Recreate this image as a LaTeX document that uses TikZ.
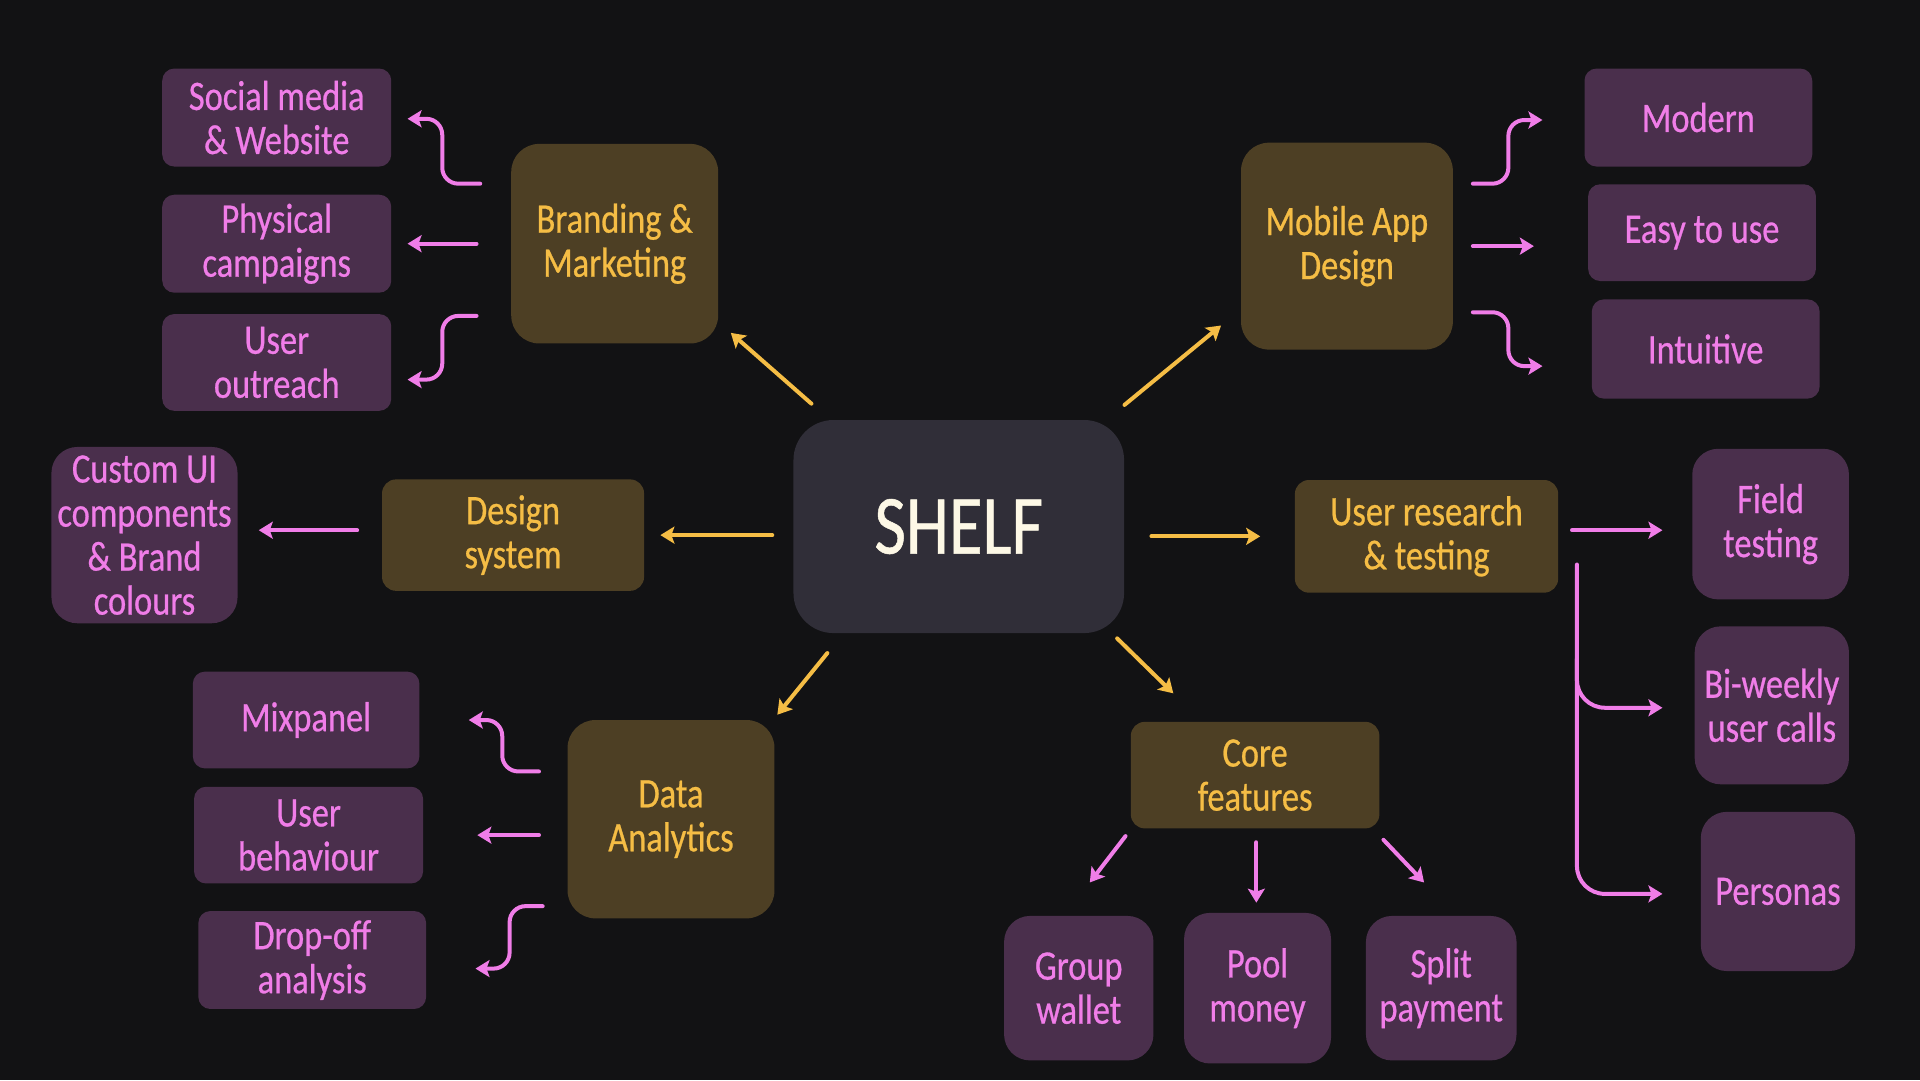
\documentclass[tikz,border=0pt]{standalone}
\usepackage{fontspec}
\setmainfont{Carlito}[FakeStretch=0.82, FakeBold=0.6]
\usetikzlibrary{arrows.meta,calc}
\definecolor{bgc}{RGB}{18,18,20}
\definecolor{shelfc}{RGB}{48,46,56}
\definecolor{brownc}{RGB}{77,63,36}
\definecolor{yellowc}{RGB}{245,189,69}
\definecolor{purplec}{RGB}{74,47,76}
\definecolor{pinkc}{RGB}{240,125,232}
\definecolor{creamc}{RGB}{253,248,230}
\def\sk{0.6123pt}
\tikzset{
  every node/.style={inner sep=0pt, align=center, font=\fontsize{21}{22}\selectfont},
  ybox/.style={fill=brownc, text=yellowc, rounded corners=7pt},
  ybig/.style={ybox, rounded corners=14pt},
  pbox/.style={fill=purplec, text=pinkc, rounded corners=6pt},
  pbig/.style={pbox, rounded corners=13pt},
  sz/.style 2 args={minimum width=#1*\sk, minimum height=#2*\sk},
  ya/.style={draw=yellowc, line width=2pt, line cap=round, -{Stealth[length=7pt,width=8.5pt,inset=1.5pt]}},
  pa/.style={draw=pinkc, line width=2pt, line cap=round, rounded corners=8pt, -{Stealth[length=7pt,width=8.5pt,inset=1.5pt]}},
}
\begin{document}
\begin{tikzpicture}[x=0.6123pt, y=-0.6123pt]
\useasboundingbox (0,0) rectangle (1568,882);
\fill[bgc] (0,0) rectangle (1568,882);

% center
\node[fill=shelfc, text=creamc, rounded corners=20pt, sz={270}{174}, font=\fontsize{42}{44}\selectfont] (shelf) at (783,430) {SHELF};

% main branches
\node[ybig, sz={169}{163}] (brand) at (502,199) {Branding \&\\Marketing};
\node[ybig, sz={173}{169}] (mobile) at (1100,201) {Mobile App\\Design};
\node[ybox, sz={214}{91}] (design) at (419,437) {Design\\system};
\node[ybox, sz={215}{92}] (research) at (1165,438) {User research\\\& testing};
\node[ybox, sz={203}{87}] (core) at (1025,633) {Core\\features};
\node[ybig, sz={169}{162}] (data) at (548,669) {Data\\Analytics};

% leaves
\node[pbox, sz={187}{80}] (social) at (226,96) {Social media\\\& Website};
\node[pbox, sz={187}{80}] (phys) at (226,199) {Physical\\campaigns};
\node[pbox, sz={187}{79}] (outreach) at (226,296) {User\\outreach};

\node[pbox, sz={186}{80}] (modern) at (1387,96) {Modern};
\node[pbox, sz={186}{79}] (easy) at (1390,190) {Easy to use};
\node[pbox, sz={186}{81}] (intuitive) at (1393,285) {Intuitive};

\node[pbig, sz={152}{144}] (custom) at (118,437) {Custom UI\\components\\\& Brand\\colours};

\node[pbig, sz={128}{123}] (field) at (1446,428) {Field\\testing};
\node[pbig, sz={126}{129}] (biweekly) at (1447,576) {Bi-weekly\\user calls};
\node[pbig, sz={126}{130}] (personas) at (1452,728) {Personas};

\node[pbig, sz={122}{118}] (wallet) at (881,807) {Group\\wallet};
\node[pbig, sz={120}{123}] (pool) at (1027,807) {Pool\\money};
\node[pbig, sz={123}{118}] (split) at (1177,807) {Split\\payment};

\node[pbox, sz={185}{79}] (mixpanel) at (250,588) {Mixpanel};
\node[pbox, sz={187}{79}] (behav) at (252,682) {User\\behaviour};
\node[pbox, sz={186}{80}] (dropoff) at (255,784) {Drop-off\\analysis};

% yellow connectors from center
\draw[ya] ($(shelf.north west)+(15,-13)$) -- ($(brand.south east)+(10,-9)$);
\draw[ya] ($(shelf.north east)+(0,-12)$) -- ($(mobile.south west)+(-16,-20)$);
\draw[ya] ($(shelf.west)+(-17,7)$) -- ($(design.east)+(13,0)$);
\draw[ya] ($(shelf.east)+(22,8)$) -- ($(research.west)+(-28,0)$);
\draw[ya] ($(shelf.south east)+(-6,4)$) -- ($(core.north west)+(35,-23)$);
\draw[ya] ($(shelf.south west)+(28,16)$) -- ($(data.north east)+(2,-4)$);

% branding
\draw[pa] ($(brand.west)+(-25,-49)$) -- ++(-31,0) |- ($(social.east)+(13,1)$);
\draw[pa] ($(brand.west)+(-28,0)$) -- ($(phys.east)+(13,0)$);
\draw[pa] ($(brand.west)+(-28,59)$) -- ++(-28,0) |- ($(outreach.east)+(13,14)$);

% mobile
\draw[pa] ($(mobile.east)+(16,-51)$) -- ++(29,0) |- ($(modern.west)+(-34,2)$);
\draw[pa] ($(mobile.east)+(16,0)$) -- ($(easy.west)+(-44,11)$);
\draw[pa] ($(mobile.east)+(16,54)$) -- ++(29,0) |- ($(intuitive.west)+(-40,14)$);

% design system
\draw[pa] ($(design.west)+(-20,-4)$) -- ($(custom.east)+(17,-4)$);

% research
\draw[pa] ($(research.east)+(11,-5)$) -- ($(field.west)+(-24,5)$);
\draw[pa, rounded corners=14pt] ($(research.east)+(15,23)$) |- ($(personas.west)+(-31,2)$);
\draw[pa, rounded corners=14pt] ($(research.east)+(15,100)$) |- ($(biweekly.west)+(-26,2)$);

% core
\draw[pa] ($(core.south west)+(-4,6)$) -- ($(wallet.north)+(9,-27)$);
\draw[pa] ($(core.south)+(1,11)$) -- ($(pool.north)+(-1,-8)$);
\draw[pa] ($(core.south east)+(3,9)$) -- ($(split.north)+(-14,-27)$);

% data
\draw[pa] ($(data.west)+(-23,-39)$) -- ++(-30,0) |- ($(mixpanel.east)+(40,0)$);
\draw[pa] ($(data.west)+(-23,13)$) -- ($(behav.east)+(44,0)$);
\draw[pa] ($(data.west)+(-20,71)$) -- ++(-27,0) |- ($(dropoff.east)+(40,7)$);
\end{tikzpicture}
\end{document}
